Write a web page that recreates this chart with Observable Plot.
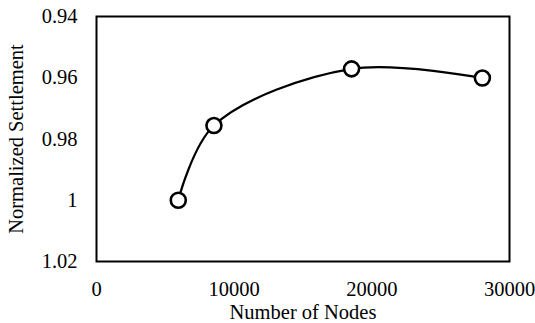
<!DOCTYPE html>
<html>
<head>
<meta charset="utf-8">
<script src="https://cdn.jsdelivr.net/npm/d3@7"></script>
<script src="https://cdn.jsdelivr.net/npm/@observablehq/plot@0.6"></script>
<style>
  html, body { margin: 0; padding: 0; background: #fff; }
  #chart svg { display: block; }
  #chart svg, #chart svg g, #chart svg text { font-family: 'Liberation Serif', 'Times New Roman', serif !important; font-variant: normal !important; }
</style>
</head>
<body>
<div id="chart"></div>
<script>
const nodes = [5940, 8530, 18530, 28030];
const settlement = [1.000, 0.9756, 0.9571, 0.9601];
const xTicks = [0, 10000, 20000, 30000];
const yTicks = [0.94, 0.96, 0.98, 1.00, 1.02];
const xLabel = "Number of Nodes";
const yLabel = "Normalized Settlement";

const data = nodes.map((n, i) => ({n, s: settlement[i]}));
const font = "'Liberation Serif', 'Times New Roman', serif";

const chart = Plot.plot({
  width: 535,
  height: 323,
  marginLeft: 96,
  marginRight: 26,
  marginTop: 16,
  marginBottom: 62,
  style: {fontFamily: font, fontSize: "20.5px", color: "#000", background: "#fff"},
  x: {domain: [0, 30000]},
  y: {domain: [0.94, 1.02], reverse: true},
  marks: [
    Plot.frame({stroke: "#000", strokeWidth: 2}),
    Plot.axisX({ticks: xTicks, tickSize: 0, tickPadding: 20, tickFormat: d => String(d),
      label: xLabel, labelAnchor: "center", labelArrow: "none", labelOffset: 57,
      fontSize: 20.5, fontFamily: font, fontVariant: "normal", fill: "#000"}),
    Plot.axisY({ticks: yTicks, tickSize: 0, tickPadding: 19, tickFormat: d => String(+d.toFixed(2)),
      label: yLabel, labelAnchor: "center", labelArrow: "none", labelOffset: 88,
      fontSize: 20.5, fontFamily: font, fontVariant: "normal", fill: "#000"}),
    Plot.line(data, {x: "n", y: "s", curve: "catmull-rom", stroke: "#000", strokeWidth: 2.2}),
    Plot.dot(data, {x: "n", y: "s", r: 7.5, fill: "#fff", stroke: "#000", strokeWidth: 2.6})
  ]
});
document.getElementById("chart").appendChild(chart);
</script>
</body>
</html>
